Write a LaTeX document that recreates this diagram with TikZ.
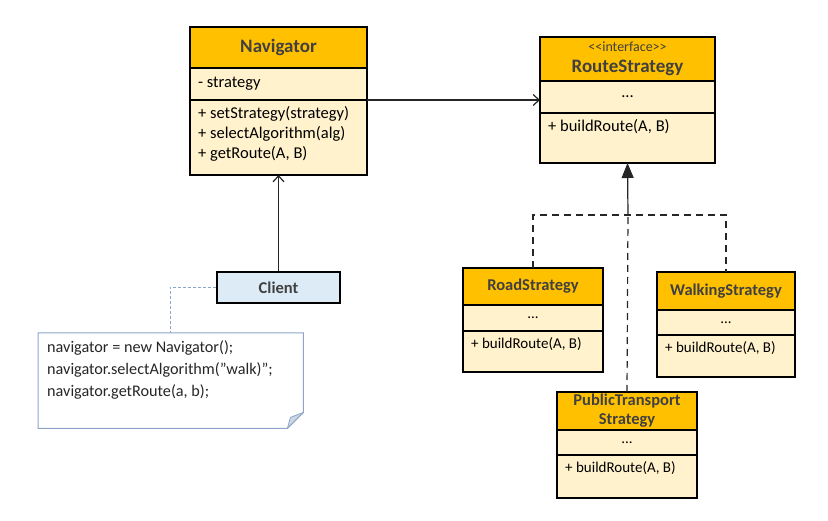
\documentclass[tikz,border=0pt]{standalone}
\usepackage{fontspec}
\setmainfont{Carlito}
\usetikzlibrary{arrows.meta,positioning,calc}
\definecolor{cHead}  {RGB}{255,192,0}
\definecolor{cBody}  {RGB}{255,242,204}
\definecolor{cClient}{RGB}{221,235,247}
\definecolor{cNote}  {RGB}{140,165,200}
\definecolor{cFold}  {RGB}{205,214,228}
\definecolor{cTitle} {RGB}{64,64,64}
\newcommand{\tfont}{\fontsize{19}{21}\selectfont\bfseries}
\newcommand{\bfont}{\fontsize{16.5}{20}\selectfont}
\tikzset{
  >={Straight Barb[length=6pt,width=11pt]},
  clshead/.style={draw,line width=1.1pt,fill=cHead,text=cTitle,font=\tfont,
                  align=center,inner sep=0pt,outer sep=0pt,anchor=north west},
  clsattr/.style={draw,line width=1.1pt,fill=cBody,font=\bfont,
                  inner xsep=8pt,inner ysep=0pt,outer sep=0pt,anchor=north},
  clsmeth/.style={draw,line width=1.1pt,fill=cBody,outer sep=0pt,anchor=north},
  methtext/.style={font=\bfont,align=left,inner xsep=8pt,inner ysep=6pt,anchor=north west},
  client/.style={draw,line width=1.5pt,fill=cClient,text=cTitle,
                 font=\fontsize{16.5}{19}\selectfont\bfseries,
                 minimum width=123pt,minimum height=31pt,inner sep=0pt},
  notebox/.style={minimum width=265pt,minimum height=95pt,inner sep=0pt,anchor=north west},
  notetext/.style={font=\fontsize{16.2}{22}\selectfont,align=left,inner sep=0pt,
                   anchor=north west,text=black!85},
  assoc/.style={->,line width=1.2pt,black!85},
  gen/.style={-{Triangle[length=15pt,width=12pt]},line width=1.2pt,black!85,fill=black!70},
  impl/.style={line width=1.2pt,black!85,dash pattern=on 7pt off 5pt},
  notelink/.style={line width=1pt,cNote,dash pattern=on 3pt off 2pt},
}

\begin{document}
\begin{tikzpicture}[x=1pt,y=-1pt]
  \useasboundingbox (0,0) rectangle (828,521);

  % ---- class box: header, attributes, methods ----
  \newcommand{\umlclass}[9]{% #1 name #2 top-left #3 width #4 #5 #6 heights #7 title #8 attr #9 methods
    \node[clshead,minimum width=#3pt,minimum height=#4pt] (#1) at (#2) {#7};
    \node[clsattr,minimum width=#3pt,minimum height=#5pt] (#1a) at (#1.south) {#8};
    \node[clsmeth,minimum width=#3pt,minimum height=#6pt] (#1m) at (#1a.south) {};
    \node[methtext] (#1t) at (#1m.north west) {#9};}

  \umlclass{nav}{190,27}{177}{41}{32}{75}{Navigator}{\makebox[161pt][l]{- strategy}}
    {+ setStrategy(strategy)\\+ selectAlgorithm(alg)\\+ getRoute(A, B)}
  \umlclass{route}{540,37}{175}{44}{32}{50}%
    {{\fontsize{14}{18}\selectfont\mdseries <{}<interface>{}>}\\RouteStrategy}{...}{+ buildRoute(A, B)}

  \renewcommand{\tfont}{\fontsize{16.5}{19}\selectfont\bfseries}
  \renewcommand{\bfont}{\fontsize{15}{18}\selectfont}
  \umlclass{road}{463,268}{140}{37}{26}{41}{RoadStrategy}{...}{+ buildRoute(A, B)}
  \umlclass{walk}{657,272}{138}{38}{25}{42}{WalkingStrategy}{...}{+ buildRoute(A, B)}
  \umlclass{pub}{557,392}{140}{38}{25}{43}{PublicTransport\\Strategy}{...}{+ buildRoute(A, B)}

  % ---- client and its note ----
  \node[client] (client) at (278.5,287.5) {Client};
  \node[notebox] (note) at (38,333) {};
  \fill[white] (note.north west) -- (note.north east) -- ($(note.south east)+(0,-16)$)
    -- ($(note.south east)+(-16,0)$) -- (note.south west) -- cycle;
  \filldraw[cNote,fill=cFold,line width=0.8pt] ($(note.south east)+(0,-16)$)
    -- ($(note.south east)+(-13,-11)$) -- ($(note.south east)+(-16,0)$);
  \draw[cNote,line width=1pt] (note.north west) -- (note.north east) -- ($(note.south east)+(0,-16)$)
    -- ($(note.south east)+(-16,0)$) -- (note.south west) -- cycle;
  \node[notetext] (notet) at ($(note.north west)+(9,7)$)
    {navigator = new Navigator();\\navigator.selectAlgorithm(”walk)”;\\navigator.getRoute(a, b);};

  % ---- connectors ----
  \draw[assoc] (nava.south east) -- (nava.south east -| routea.west);
  \draw[assoc] (client.north) -- (navm.south);
  \draw[notelink] (client.west) -| ($(note.north west)+(132,0)$);
  \coordinate (hub) at (628,215);
  \draw[gen] (hub) -- (routem.south);
  \draw[impl] (road.north) |- (hub) -| (walk.north);
  \draw[impl] (pub.north) -- (hub);
\end{tikzpicture}
\end{document}
